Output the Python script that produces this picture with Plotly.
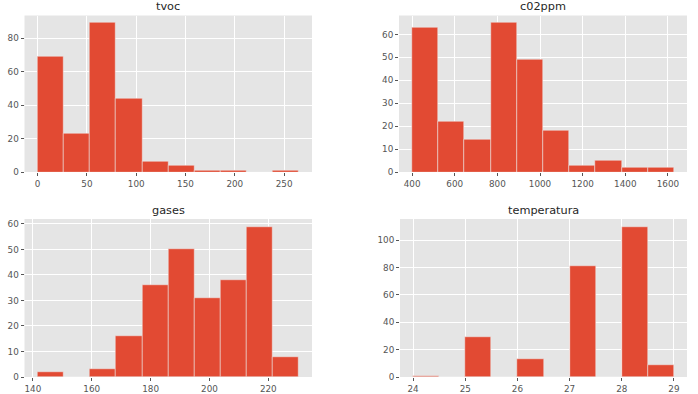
import numpy as np
import plotly.graph_objects as go

# ---- data (histogram counts, 10 bins each) ----
titles = ["tvoc", "c02ppm", "gases", "temperatura"]
tvoc_counts = [69, 23, 89, 44, 6, 4, 1, 1, 0, 1]
tvoc_range = [0, 265]
co2_counts = [63, 22, 14, 65, 49, 18, 3, 5, 2, 2]
co2_range = [400, 1628]
gases_counts = [2, 0, 3, 16, 36, 50, 31, 38, 59, 8]
gases_range = [141.6, 230.4]
temp_counts = [1, 0, 29, 0, 13, 0, 81, 0, 110, 9]
temp_range = [24, 29]

tvoc_xticks = [0, 50, 100, 150, 200, 250]
tvoc_yticks = [0, 20, 40, 60, 80]
co2_xticks = [400, 600, 800, 1000, 1200, 1400, 1600]
co2_yticks = [0, 10, 20, 30, 40, 50, 60]
gases_xticks = [140, 160, 180, 200, 220]
gases_yticks = [0, 10, 20, 30, 40, 50, 60]
temp_xticks = [24, 25, 26, 27, 28, 29]
temp_yticks = [0, 20, 40, 60, 80, 100]

panels = [
    (tvoc_counts, tvoc_range, tvoc_xticks, tvoc_yticks),
    (co2_counts, co2_range, co2_xticks, co2_yticks),
    (gases_counts, gases_range, gases_xticks, gases_yticks),
    (temp_counts, temp_range, temp_xticks, temp_yticks),
]

W, H = 698, 394
# axis boxes in pixels: (left, right, top, bottom)
boxes = [
    (24.5, 312, 15.5, 172),
    (399, 687, 15.5, 172),
    (24.5, 312, 219, 377),
    (400, 687, 219, 377),
]

fig = go.Figure()
BAR = "#E24A33"
TICK = "#555555"
FONT = "DejaVu Sans"

for i, ((counts, rng, xt, yt), box) in enumerate(zip(panels, boxes)):
    n = len(counts)
    edges = np.linspace(rng[0], rng[1], n + 1)
    centers = (edges[:-1] + edges[1:]) / 2
    width = edges[1] - edges[0]
    k = "" if i == 0 else str(i + 1)
    fig.add_trace(go.Bar(
        x=centers, y=counts, width=[width] * n,
        marker=dict(color=BAR, line=dict(color="#EEEEEE", width=0.5)),
        xaxis="x" + k, yaxis="y" + k, showlegend=False,
        hoverinfo="x+y",
    ))
    span = rng[1] - rng[0]
    l, r, t, b = box
    ax = dict(
        domain=[l / W, r / W],
        range=[rng[0] - 0.05 * span, rng[1] + 0.05 * span],
        tickvals=xt, showgrid=True, gridcolor="white", gridwidth=1,
        zeroline=False, ticks="outside", ticklen=3, tickcolor=TICK,
        tickfont=dict(family=FONT, size=8.8, color=TICK),
        anchor="y" + k, showline=False, automargin=False,
    )
    ay = dict(
        domain=[1 - b / H, 1 - t / H],
        range=[0, max(counts) * 1.05],
        tickvals=yt, showgrid=True, gridcolor="white", gridwidth=1,
        zeroline=False, ticks="outside", ticklen=3, tickcolor=TICK,
        tickfont=dict(family=FONT, size=8.8, color=TICK),
        anchor="x" + k, showline=False, automargin=False,
    )
    fig.layout["xaxis" + k] = ax
    fig.layout["yaxis" + k] = ay
    fig.add_annotation(
        text=titles[i], x=(l + r) / 2 / W, y=1 - t / H,
        xref="paper", yref="paper", xanchor="center", yanchor="bottom",
        yshift=0, showarrow=False,
        font=dict(family=FONT, size=11.3, color="#262626"),
    )

fig.update_layout(
    width=W, height=H, margin=dict(l=0, r=0, t=0, b=0, autoexpand=False),
    paper_bgcolor="white", plot_bgcolor="#E5E5E5",
    bargap=0, showlegend=False,
)

fig.write_html("out.html",
               config={"displayModeBar": False},
               post_script="document.body.style.margin='0';")
